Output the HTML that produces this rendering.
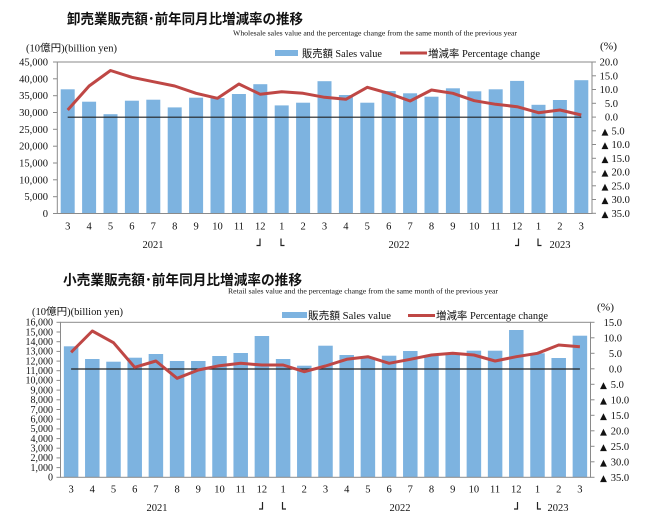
<!DOCTYPE html>
<html><head><meta charset="utf-8"><style>
html,body{margin:0;padding:0;background:#fff;}
svg{display:block;}
.s{font-family:"Liberation Serif","Noto Serif CJK JP",serif;fill:#111;}
.t{font-family:"Liberation Sans","Noto Sans CJK JP",sans-serif;font-weight:bold;fill:#111;}
.l{font-family:"Liberation Serif","Noto Sans CJK JP",serif;fill:#111;}
.tri{font-family:"DejaVu Sans",sans-serif;fill:#111;}
</style></head><body>
<svg width="650" height="520" viewBox="0 0 650 520" xmlns="http://www.w3.org/2000/svg">
<rect width="650" height="520" fill="#fff"/>

<!-- ===== Chart 1 ===== -->
<text class="t" x="67" y="24" font-size="14" textLength="236" lengthAdjust="spacingAndGlyphs">卸売業販売額･前年同月比増減率の推移</text>
<text class="s" x="233" y="35.5" font-size="7" textLength="284" lengthAdjust="spacingAndGlyphs">Wholesale sales value and the percentage change from the same month of the previous year</text>
<text class="l" x="26" y="51.5" font-size="10" textLength="91" lengthAdjust="spacingAndGlyphs">(10億円)(billion yen)</text>
<text class="l" x="600" y="49.5" font-size="10" textLength="17" lengthAdjust="spacingAndGlyphs">(%)</text>
<rect x="275" y="50" width="23" height="6" fill="#7db3e0"/>
<text class="l" x="302" y="57" font-size="10.5" textLength="80" lengthAdjust="spacingAndGlyphs">販売額 Sales value</text>
<line x1="400" y1="53" x2="427" y2="53" stroke="#bf4745" stroke-width="3"/>
<text class="l" x="428" y="57" font-size="10.5" textLength="112" lengthAdjust="spacingAndGlyphs">増減率 Percentage change</text>

<g fill="#7db3e0">
<rect x="60.7" y="89.3" width="14" height="124.2"/>
<rect x="82.1" y="101.7" width="14" height="111.8"/>
<rect x="103.5" y="114.2" width="14" height="99.3"/>
<rect x="124.9" y="100.7" width="14" height="112.8"/>
<rect x="146.3" y="99.7" width="14" height="113.8"/>
<rect x="167.7" y="107.4" width="14" height="106.1"/>
<rect x="189.1" y="97.7" width="14" height="115.8"/>
<rect x="210.5" y="98.0" width="14" height="115.5"/>
<rect x="231.9" y="94.0" width="14" height="119.5"/>
<rect x="253.3" y="84.2" width="14" height="129.3"/>
<rect x="274.7" y="105.4" width="14" height="108.1"/>
<rect x="296.1" y="102.7" width="14" height="110.8"/>
<rect x="317.5" y="81.2" width="14" height="132.3"/>
<rect x="338.9" y="95.0" width="14" height="118.5"/>
<rect x="360.3" y="102.7" width="14" height="110.8"/>
<rect x="381.7" y="91.0" width="14" height="122.5"/>
<rect x="403.1" y="93.3" width="14" height="120.2"/>
<rect x="424.5" y="96.7" width="14" height="116.8"/>
<rect x="445.9" y="88.3" width="14" height="125.2"/>
<rect x="467.3" y="91.3" width="14" height="122.2"/>
<rect x="488.7" y="89.3" width="14" height="124.2"/>
<rect x="510.1" y="80.9" width="14" height="132.6"/>
<rect x="531.5" y="104.8" width="14" height="108.7"/>
<rect x="552.9" y="100.0" width="14" height="113.5"/>
<rect x="574.3" y="80.2" width="14" height="133.3"/>
</g>
<rect x="57.3" y="62" width="534.7" height="151.5" fill="none" stroke="#8a8a8a" stroke-width="1"/>
<line x1="67.7" y1="117.2" x2="581.3" y2="117.2" stroke="#222" stroke-width="1.2"/>
<polyline fill="none" stroke="#bf4745" stroke-width="3" stroke-linejoin="round" points="67.7,110 89.1,86 110.5,70.5 131.9,77.3 153.3,81.7 174.7,86 196.1,93.3 217.5,98.3 238.9,84 260.3,94.3 281.7,91.7 303.1,93.3 324.5,97.3 345.9,99.3 367.3,87.3 388.7,93.3 410.1,101 431.5,90 452.9,93.3 474.3,100.7 495.7,104.3 517.1,106.7 538.5,112.7 559.9,110 581.3,115"/>

<g stroke="#8a8a8a" stroke-width="1">
<line x1="53" y1="62" x2="57.3" y2="62"/><line x1="53" y1="78.8" x2="57.3" y2="78.8"/><line x1="53" y1="95.7" x2="57.3" y2="95.7"/><line x1="53" y1="112.5" x2="57.3" y2="112.5"/><line x1="53" y1="129.3" x2="57.3" y2="129.3"/><line x1="53" y1="146.2" x2="57.3" y2="146.2"/><line x1="53" y1="163" x2="57.3" y2="163"/><line x1="53" y1="179.8" x2="57.3" y2="179.8"/><line x1="53" y1="196.7" x2="57.3" y2="196.7"/><line x1="53" y1="213.5" x2="57.3" y2="213.5"/>
<line x1="592" y1="62" x2="596" y2="62"/><line x1="592" y1="75.8" x2="596" y2="75.8"/><line x1="592" y1="89.5" x2="596" y2="89.5"/><line x1="592" y1="103.3" x2="596" y2="103.3"/><line x1="592" y1="117.1" x2="596" y2="117.1"/><line x1="592" y1="130.8" x2="596" y2="130.8"/><line x1="592" y1="144.5" x2="596" y2="144.5"/><line x1="592" y1="158.3" x2="596" y2="158.3"/><line x1="592" y1="172" x2="596" y2="172"/><line x1="592" y1="185.8" x2="596" y2="185.8"/><line x1="592" y1="199.5" x2="596" y2="199.5"/><line x1="592" y1="213.3" x2="596" y2="213.3"/>
</g>
<g class="s" font-size="10.5" text-anchor="end">
<text x="48" y="65.5">45,000</text><text x="48" y="82.3">40,000</text><text x="48" y="99.2">35,000</text><text x="48" y="116">30,000</text><text x="48" y="132.8">25,000</text><text x="48" y="149.7">20,000</text><text x="48" y="166.5">15,000</text><text x="48" y="183.3">10,000</text><text x="48" y="200.2">5,000</text><text x="48" y="217">0</text>
<text x="618" y="65.5">20.0</text><text x="618" y="79.3">15.0</text><text x="618" y="93">10.0</text><text x="618" y="106.8">5.0</text><text x="618" y="120.6">0.0</text>
</g>
<g class="s" font-size="10.5">
<text x="611.5" y="134.3">5.0</text><text x="611.5" y="148">10.0</text><text x="611.5" y="161.8">15.0</text><text x="611.5" y="175.5">20.0</text><text x="611.5" y="189.3">25.0</text><text x="611.5" y="203">30.0</text><text x="611.5" y="216.8">35.0</text>
</g>
<g class="tri" font-size="9">
<text x="601.5" y="134.3">▲</text><text x="601.5" y="148">▲</text><text x="601.5" y="161.8">▲</text><text x="601.5" y="175.5">▲</text><text x="601.5" y="189.3">▲</text><text x="601.5" y="203">▲</text><text x="601.5" y="216.8">▲</text>
</g>
<g class="s" font-size="10.5" text-anchor="middle">
<text x="67.7" y="229.5">3</text><text x="89.1" y="229.5">4</text><text x="110.5" y="229.5">5</text><text x="131.9" y="229.5">6</text><text x="153.3" y="229.5">7</text><text x="174.7" y="229.5">8</text><text x="196.1" y="229.5">9</text><text x="217.5" y="229.5">10</text><text x="238.9" y="229.5">11</text><text x="260.3" y="229.5">12</text><text x="281.7" y="229.5">1</text><text x="303.1" y="229.5">2</text><text x="324.5" y="229.5">3</text><text x="345.9" y="229.5">4</text><text x="367.3" y="229.5">5</text><text x="388.7" y="229.5">6</text><text x="410.1" y="229.5">7</text><text x="431.5" y="229.5">8</text><text x="452.9" y="229.5">9</text><text x="474.3" y="229.5">10</text><text x="495.7" y="229.5">11</text><text x="517.1" y="229.5">12</text><text x="538.5" y="229.5">1</text><text x="559.9" y="229.5">2</text><text x="581.3" y="229.5">3</text>
<text x="153" y="248">2021</text><text x="399" y="248">2022</text><text x="560" y="248">2023</text>
</g>
<g stroke="#222" stroke-width="1.2" fill="none">
<polyline points="260,238.5 260,245.5 256.5,245.5"/>
<polyline points="281,238.5 281,245.5 284.5,245.5"/>
<polyline points="518.5,238.5 518.5,245.5 515,245.5"/>
<polyline points="538,238.5 538,245.5 541.5,245.5"/>
</g>

<!-- ===== Chart 2 ===== -->
<text class="t" x="63" y="285" font-size="14" textLength="239" lengthAdjust="spacingAndGlyphs">小売業販売額･前年同月比増減率の推移</text>
<text class="s" x="228" y="293.5" font-size="7" textLength="270" lengthAdjust="spacingAndGlyphs">Retail sales value and the percentage change from the same month of the previous year</text>
<text class="l" x="32" y="315" font-size="10" textLength="91" lengthAdjust="spacingAndGlyphs">(10億円)(billion yen)</text>
<text class="l" x="597" y="310.5" font-size="10" textLength="17" lengthAdjust="spacingAndGlyphs">(%)</text>
<rect x="282" y="312" width="25" height="6" fill="#7db3e0"/>
<text class="l" x="308" y="319" font-size="10.5" textLength="83" lengthAdjust="spacingAndGlyphs">販売額 Sales value</text>
<line x1="408" y1="315.5" x2="435" y2="315.5" stroke="#bf4745" stroke-width="3"/>
<text class="l" x="436" y="319" font-size="10.5" textLength="112" lengthAdjust="spacingAndGlyphs">増減率 Percentage change</text>

<g fill="#7db3e0">
<rect x="63.85" y="346.3" width="14.5" height="131"/>
<rect x="85.05" y="359" width="14.5" height="118.3"/>
<rect x="106.25" y="361.7" width="14.5" height="115.6"/>
<rect x="127.45" y="357.7" width="14.5" height="119.6"/>
<rect x="148.65" y="354" width="14.5" height="123.3"/>
<rect x="169.85" y="361" width="14.5" height="116.3"/>
<rect x="191.05" y="361" width="14.5" height="116.3"/>
<rect x="212.25" y="356" width="14.5" height="121.3"/>
<rect x="233.45" y="353" width="14.5" height="124.3"/>
<rect x="254.65" y="336" width="14.5" height="141.3"/>
<rect x="275.85" y="359" width="14.5" height="118.3"/>
<rect x="297.05" y="365.7" width="14.5" height="111.6"/>
<rect x="318.25" y="345.7" width="14.5" height="131.6"/>
<rect x="339.45" y="355" width="14.5" height="122.3"/>
<rect x="360.65" y="357.7" width="14.5" height="119.6"/>
<rect x="381.85" y="355.7" width="14.5" height="121.6"/>
<rect x="403.05" y="351" width="14.5" height="126.3"/>
<rect x="424.25" y="356" width="14.5" height="121.3"/>
<rect x="445.45" y="353.3" width="14.5" height="124"/>
<rect x="466.65" y="350.7" width="14.5" height="126.6"/>
<rect x="487.85" y="350.7" width="14.5" height="126.6"/>
<rect x="509.05" y="330" width="14.5" height="147.3"/>
<rect x="530.25" y="353.3" width="14.5" height="124"/>
<rect x="551.45" y="358" width="14.5" height="119.3"/>
<rect x="572.65" y="335.7" width="14.5" height="141.6"/>
</g>
<rect x="60.5" y="322.3" width="530" height="155" fill="none" stroke="#8a8a8a" stroke-width="1"/>
<line x1="71.1" y1="369" x2="579.9" y2="369" stroke="#222" stroke-width="1.2"/>
<polyline fill="none" stroke="#bf4745" stroke-width="3" stroke-linejoin="round" points="71.1,352.3 92.3,331 113.5,342.7 134.7,367.3 155.9,361 177.1,378.3 198.3,370 219.5,365.7 240.7,363.3 261.9,365 283.1,365 304.3,371.7 325.5,366 346.7,359.3 367.9,356.7 389.1,363.3 410.3,359.3 431.5,355 452.7,353.3 473.9,355 495.1,361 516.3,356.7 537.5,353.3 558.7,345 579.9,346.7"/>

<g stroke="#8a8a8a" stroke-width="1">
<line x1="56.5" y1="322.3" x2="60.5" y2="322.3"/><line x1="56.5" y1="332" x2="60.5" y2="332"/><line x1="56.5" y1="341.7" x2="60.5" y2="341.7"/><line x1="56.5" y1="351.4" x2="60.5" y2="351.4"/><line x1="56.5" y1="361.1" x2="60.5" y2="361.1"/><line x1="56.5" y1="370.7" x2="60.5" y2="370.7"/><line x1="56.5" y1="380.4" x2="60.5" y2="380.4"/><line x1="56.5" y1="390.1" x2="60.5" y2="390.1"/><line x1="56.5" y1="399.8" x2="60.5" y2="399.8"/><line x1="56.5" y1="409.5" x2="60.5" y2="409.5"/><line x1="56.5" y1="419.2" x2="60.5" y2="419.2"/><line x1="56.5" y1="428.9" x2="60.5" y2="428.9"/><line x1="56.5" y1="438.6" x2="60.5" y2="438.6"/><line x1="56.5" y1="448.2" x2="60.5" y2="448.2"/><line x1="56.5" y1="457.9" x2="60.5" y2="457.9"/><line x1="56.5" y1="467.6" x2="60.5" y2="467.6"/><line x1="56.5" y1="477.3" x2="60.5" y2="477.3"/>
<line x1="590.5" y1="322.3" x2="594.5" y2="322.3"/><line x1="590.5" y1="337.8" x2="594.5" y2="337.8"/><line x1="590.5" y1="353.3" x2="594.5" y2="353.3"/><line x1="590.5" y1="368.8" x2="594.5" y2="368.8"/><line x1="590.5" y1="384.3" x2="594.5" y2="384.3"/><line x1="590.5" y1="399.8" x2="594.5" y2="399.8"/><line x1="590.5" y1="415.3" x2="594.5" y2="415.3"/><line x1="590.5" y1="430.8" x2="594.5" y2="430.8"/><line x1="590.5" y1="446.3" x2="594.5" y2="446.3"/><line x1="590.5" y1="461.8" x2="594.5" y2="461.8"/><line x1="590.5" y1="477.3" x2="594.5" y2="477.3"/>
</g>
<g class="s" font-size="10" text-anchor="end">
<text x="53" y="325.6">16,000</text><text x="53" y="335.3">15,000</text><text x="53" y="345">14,000</text><text x="53" y="354.7">13,000</text><text x="53" y="364.4">12,000</text><text x="53" y="374">11,000</text><text x="53" y="383.7">10,000</text><text x="53" y="393.4">9,000</text><text x="53" y="403.1">8,000</text><text x="53" y="412.8">7,000</text><text x="53" y="422.5">6,000</text><text x="53" y="432.2">5,000</text><text x="53" y="441.9">4,000</text><text x="53" y="451.5">3,000</text><text x="53" y="461.2">2,000</text><text x="53" y="470.9">1,000</text><text x="53" y="480.6">0</text>
</g>
<g class="s" font-size="10.5" text-anchor="end">
<text x="622" y="326">15.0</text><text x="622" y="341.5">10.0</text><text x="622" y="357">5.0</text><text x="622" y="372.5">0.0</text>
</g>
<g class="s" font-size="10.5">
<text x="610.7" y="388">5.0</text><text x="610.7" y="403.5">10.0</text><text x="610.7" y="419">15.0</text><text x="610.7" y="434.5">20.0</text><text x="610.7" y="450">25.0</text><text x="610.7" y="465.5">30.0</text><text x="610.7" y="481">35.0</text>
</g>
<g class="tri" font-size="9">
<text x="600" y="388">▲</text><text x="600" y="403.5">▲</text><text x="600" y="419">▲</text><text x="600" y="434.5">▲</text><text x="600" y="450">▲</text><text x="600" y="465.5">▲</text><text x="600" y="481">▲</text>
</g>
<g class="s" font-size="10.5" text-anchor="middle">
<text x="71.1" y="492.5">3</text><text x="92.3" y="492.5">4</text><text x="113.5" y="492.5">5</text><text x="134.7" y="492.5">6</text><text x="155.9" y="492.5">7</text><text x="177.1" y="492.5">8</text><text x="198.3" y="492.5">9</text><text x="219.5" y="492.5">10</text><text x="240.7" y="492.5">11</text><text x="261.9" y="492.5">12</text><text x="283.1" y="492.5">1</text><text x="304.3" y="492.5">2</text><text x="325.5" y="492.5">3</text><text x="346.7" y="492.5">4</text><text x="367.9" y="492.5">5</text><text x="389.1" y="492.5">6</text><text x="410.3" y="492.5">7</text><text x="431.5" y="492.5">8</text><text x="452.7" y="492.5">9</text><text x="473.9" y="492.5">10</text><text x="495.1" y="492.5">11</text><text x="516.3" y="492.5">12</text><text x="537.5" y="492.5">1</text><text x="558.7" y="492.5">2</text><text x="579.9" y="492.5">3</text>
<text x="157" y="511">2021</text><text x="400" y="511">2022</text><text x="558" y="511">2023</text>
</g>
<g stroke="#222" stroke-width="1.2" fill="none">
<polyline points="262.5,502 262.5,509 259,509"/>
<polyline points="282.5,502 282.5,509 286,509"/>
<polyline points="517.5,502 517.5,509 514,509"/>
<polyline points="537.5,502 537.5,509 541,509"/>
</g>
</svg>
</body></html>
